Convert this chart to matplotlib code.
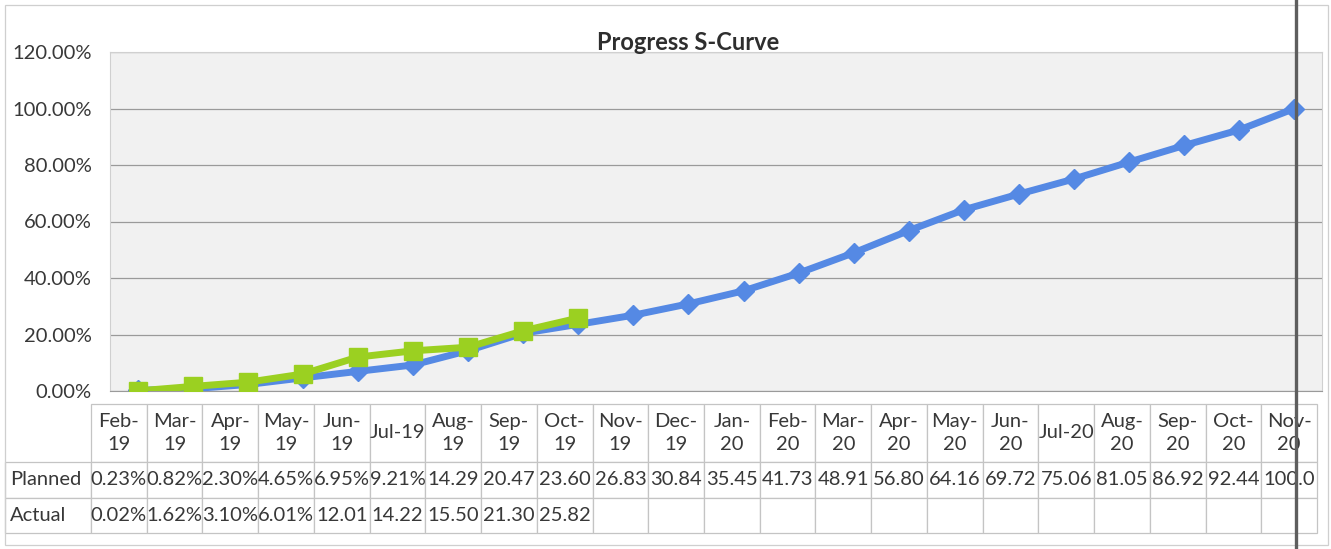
import matplotlib
matplotlib.use("Agg")
import matplotlib.pyplot as plt
from matplotlib.patches import Rectangle
from matplotlib.lines import Line2D
from matplotlib.table import Table
from matplotlib.ticker import FuncFormatter, MultipleLocator

plt.rcParams['font.family'] = ['Lato', 'DejaVu Sans']

months = ["Feb-19", "Mar-19", "Apr-19", "May-19", "Jun-19", "Jul-19", "Aug-19",
          "Sep-19", "Oct-19", "Nov-19", "Dec-19", "Jan-20", "Feb-20", "Mar-20",
          "Apr-20", "May-20", "Jun-20", "Jul-20", "Aug-20", "Sep-20", "Oct-20", "Nov-20"]
planned = [0.23, 0.82, 2.30, 4.65, 6.95, 9.21, 14.29, 20.47, 23.60, 26.83, 30.84,
           35.45, 41.73, 48.91, 56.80, 64.16, 69.72, 75.06, 81.05, 86.92, 92.44, 100.0]
actual = [0.02, 1.62, 3.10, 6.01, 12.01, 14.22, 15.50, 21.30, 25.82]

W, H = 1331, 549
BLUE = '#5589e4'
GREEN = '#9bd021'
TXT = '#383838'

fig = plt.figure(figsize=(W / 100, H / 100), dpi=100)
fig.patch.set_facecolor('white')

# plot area (pixel layout of the original sheet)
left, right, top, bottom = 110, 1322, 52, 391
ax = fig.add_axes([left / W, (H - bottom) / H, (right - left) / W, (bottom - top) / H])
ax.set_facecolor('#f1f1f1')

x = list(range(len(months)))
ax.plot(x, planned, color=BLUE, lw=5, marker='D', ms=10, zorder=3)
ax.plot(x[:len(actual)], actual, color=GREEN, lw=5, marker='s', ms=13, zorder=4)

ax.set_xlim(-0.5, len(months) - 0.5)
ax.set_ylim(0, 120)
ax.yaxis.set_major_locator(MultipleLocator(20))
ax.yaxis.set_major_formatter(FuncFormatter(lambda v, p: f"{v:.2f}%"))
ax.grid(axis='y', color='#9a9a9a', lw=0.9)
ax.set_axisbelow(True)
ax.set_xticks([])
ax.tick_params(axis='y', length=0, pad=13, labelsize=14.5, labelcolor=TXT)
for s in ax.spines.values():
    s.set_color('#d0d0d0')
    s.set_linewidth(0.8)
ax.spines['bottom'].set_color('#9a9a9a')

fig.text(688 / W, 1 - 43 / H, "Progress S-Curve", ha='center', va='center',
         fontsize=17, fontweight='bold', color='#2e2e2e')


# --- data table under the plot ---
def cell_str(v):
    # Excel cuts the value to what fits in the narrow column
    return f"{v:.2f}%"[:5]


headers = [m.replace("-", "-\n") if not m.startswith("Jul") else m for m in months]
rows = [["Planned"] + [cell_str(v) for v in planned],
        ["Actual"] + [cell_str(v) for v in actual] + [""] * (len(months) - len(actual))]

t_lab, t_left, t_right, t_top, t_bottom = 5, 91, 1317, 404, 533
ax_w, ax_h = right - left, bottom - top
tbl = Table(ax, bbox=[(t_lab - left) / ax_w, -(t_bottom - bottom) / ax_h,
                      (t_right - t_lab) / ax_w, (t_bottom - t_top) / ax_h])
col_w = [t_left - t_lab] + [(t_right - t_left) / len(months)] * len(months)

# header row: empty corner, then month labels
corner = tbl.add_cell(0, 0, col_w[0], 58, text="")
corner.visible_edges = ''
for c, h in enumerate(headers, start=1):
    tbl.add_cell(0, c, col_w[c], 58, text=h, loc='center')
for r, row in enumerate(rows, start=1):
    for c, val in enumerate(row):
        cell = tbl.add_cell(r, c, col_w[c], 35.5, text=val, loc='left' if c == 0 else 'center')
        if c == 0:
            cell.PAD = 0.06

tbl.auto_set_font_size(False)
tbl.set_fontsize(14.5)
for (r, c), cell in tbl.get_celld().items():
    cell.set_edgecolor('#c4c4c4')
    cell.set_linewidth(0.9)
    cell.get_text().set_color(TXT)
    if r == 0:
        cell.get_text().set_linespacing(1.4)
ax.add_table(tbl)

# outer chart frame and the page break line of the scan
fig.patches.append(Rectangle((5 / W, 1 - 545 / H), 1323 / W, 540 / H, transform=fig.transFigure,
                             fill=False, edgecolor='#cfcfcf', lw=0.9))
fig.lines.append(Line2D([1296 / W, 1296 / W], [0, 1], transform=fig.transFigure,
                        color='#5e5e5e', lw=2.4))

fig.savefig("out.png", dpi=100)
